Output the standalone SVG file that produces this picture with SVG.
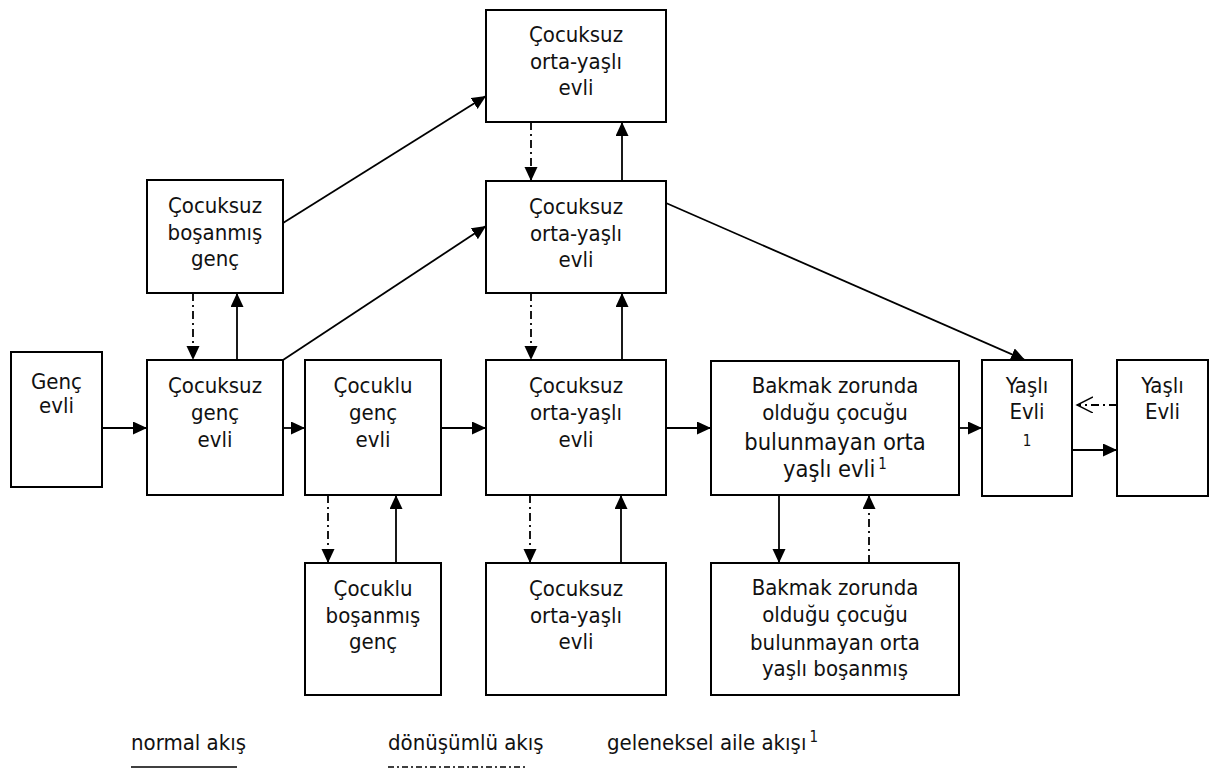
<svg xmlns="http://www.w3.org/2000/svg" width="1209" height="768" viewBox="0 0 1209 768">
  <style>
    .box { fill: #fff; stroke: #000; stroke-width: 2; }
    .lbl { font-family: "DejaVu Sans Condensed", "Open Sans", sans-serif; font-size: 22px; fill: #111; text-anchor: middle; }
    .leg { font-family: "DejaVu Sans Condensed", "Open Sans", sans-serif; font-size: 22px; fill: #111; }
    .big { font-size: 23.5px; }
    .sup { font-size: 15px; }
    .flow { fill: none; stroke: #000; stroke-width: 1.8; }
    .normal { marker-end: url(#solidHead); }
    .cycle { stroke-dasharray: 8 4 2 4; marker-end: url(#solidHead); }
    .trad { stroke-dasharray: 8 4 2 4; marker-end: url(#openHead); }
  </style>
  <defs>
    <marker id="solidHead" markerUnits="userSpaceOnUse" markerWidth="16" markerHeight="16" refX="14" refY="6.5" orient="auto">
      <path d="M0,0 L14,6.5 L0,13 Z" fill="#000"/>
    </marker>
    <marker id="openHead" markerUnits="userSpaceOnUse" markerWidth="18" markerHeight="18" refX="16" refY="8" orient="auto">
      <path d="M0,0 L16,8 L0,16" fill="none" stroke="#000" stroke-width="1.4"/>
    </marker>
  </defs>

  <rect width="1209" height="768" fill="#fff"/>

  <!-- connectors -->
  <g id="connectors">
    <!-- main horizontal flow -->
    <line class="flow normal" x1="102" y1="428" x2="147" y2="428"/>
    <line class="flow normal" x1="283" y1="428" x2="305" y2="428"/>
    <line class="flow normal" x1="441" y1="428" x2="486" y2="428"/>
    <line class="flow normal" x1="666" y1="428" x2="711" y2="428"/>
    <line class="flow normal" x1="959" y1="428" x2="982" y2="428"/>
    <line class="flow normal" x1="1072" y1="450" x2="1117" y2="450"/>
    <!-- upward and diagonal flows -->
    <line class="flow normal" x1="237" y1="360" x2="237" y2="293"/>
    <line class="flow normal" x1="622" y1="360" x2="622" y2="293"/>
    <line class="flow normal" x1="622" y1="181" x2="622" y2="122"/>
    <line class="flow normal" x1="283" y1="223" x2="486" y2="96"/>
    <line class="flow normal" x1="283" y1="360" x2="486" y2="226"/>
    <line class="flow normal" x1="666" y1="203" x2="1025" y2="360"/>
    <line class="flow normal" x1="396" y1="563" x2="396" y2="495"/>
    <line class="flow normal" x1="621" y1="563" x2="621" y2="495"/>
    <line class="flow normal" x1="779" y1="495" x2="779" y2="563"/>
    <!-- cyclic (dash-dot) flows -->
    <line class="flow cycle" x1="193" y1="293" x2="193" y2="360"/>
    <line class="flow cycle" x1="531" y1="122" x2="531" y2="181"/>
    <line class="flow cycle" x1="531" y1="293" x2="531" y2="360"/>
    <line class="flow cycle" x1="328" y1="495" x2="328" y2="563"/>
    <line class="flow cycle" x1="530" y1="495" x2="530" y2="563"/>
    <line class="flow cycle" x1="869" y1="563" x2="869" y2="495"/>
    <!-- traditional family flow -->
    <line class="flow trad" x1="1117" y1="405" x2="1077" y2="405"/>
  </g>

  <g id="genc-evli">
    <rect class="box" x="11" y="352" width="91" height="135"/>
    <text class="lbl" x="56.5" y="389">Genç</text>
    <text class="lbl" x="56.5" y="413">evli</text>
  </g>

  <g id="cocuksuz-genc-evli">
    <rect class="box" x="147" y="360" width="136" height="135"/>
    <text class="lbl" x="215" y="393">Çocuksuz</text>
    <text class="lbl" x="215" y="420">genç</text>
    <text class="lbl" x="215" y="447">evli</text>
  </g>

  <g id="cocuksuz-bosanmis-genc">
    <rect class="box" x="147" y="180" width="136" height="113"/>
    <text class="lbl" x="215" y="213">Çocuksuz</text>
    <text class="lbl" x="215" y="240">boşanmış</text>
    <text class="lbl" x="215" y="266">genç</text>
  </g>

  <g id="cocuklu-genc-evli">
    <rect class="box" x="305" y="360" width="136" height="135"/>
    <text class="lbl" x="373" y="393">Çocuklu</text>
    <text class="lbl" x="373" y="420">genç</text>
    <text class="lbl" x="373" y="447">evli</text>
  </g>

  <g id="cocuklu-bosanmis-genc">
    <rect class="box" x="305" y="563" width="136" height="132"/>
    <text class="lbl" x="373" y="596">Çocuklu</text>
    <text class="lbl" x="373" y="623">boşanmış</text>
    <text class="lbl" x="373" y="649">genç</text>
  </g>

  <g id="cocuksuz-orta-yasli-ust">
    <rect class="box" x="486" y="10" width="180" height="112"/>
    <text class="lbl" x="576" y="42">Çocuksuz</text>
    <text class="lbl" x="576" y="69">orta-yaşlı</text>
    <text class="lbl" x="576" y="95">evli</text>
  </g>

  <g id="cocuksuz-orta-yasli-orta">
    <rect class="box" x="486" y="181" width="180" height="112"/>
    <text class="lbl" x="576" y="214">Çocuksuz</text>
    <text class="lbl" x="576" y="241">orta-yaşlı</text>
    <text class="lbl" x="576" y="267">evli</text>
  </g>

  <g id="cocuksuz-orta-yasli-evli">
    <rect class="box" x="486" y="360" width="180" height="135"/>
    <text class="lbl" x="576" y="393">Çocuksuz</text>
    <text class="lbl" x="576" y="420">orta-yaşlı</text>
    <text class="lbl" x="576" y="447">evli</text>
  </g>

  <g id="cocuksuz-orta-yasli-alt">
    <rect class="box" x="486" y="563" width="180" height="132"/>
    <text class="lbl" x="576" y="596">Çocuksuz</text>
    <text class="lbl" x="576" y="623">orta-yaşlı</text>
    <text class="lbl" x="576" y="649">evli</text>
  </g>

  <g id="bakmak-evli">
    <rect class="box" x="711" y="361" width="248" height="134"/>
    <text class="lbl" x="835" y="393">Bakmak zorunda</text>
    <text class="lbl" x="835" y="420">olduğu çocuğu</text>
    <text class="lbl big" x="835" y="450">bulunmayan orta</text>
    <text class="lbl big" x="835" y="477">yaşlı evli<tspan class="sup" dx="3" dy="-8">1</tspan></text>
  </g>

  <g id="bakmak-bosanmis">
    <rect class="box" x="711" y="563" width="248" height="132"/>
    <text class="lbl" x="835" y="595">Bakmak zorunda</text>
    <text class="lbl" x="835" y="622">olduğu çocuğu</text>
    <text class="lbl" x="835" y="650">bulunmayan orta</text>
    <text class="lbl" x="835" y="676">yaşlı boşanmış</text>
  </g>

  <g id="yasli-evli-1">
    <rect class="box" x="982" y="360" width="90" height="136"/>
    <text class="lbl" x="1027" y="393">Yaşlı</text>
    <text class="lbl" x="1027" y="419">Evli</text>
    <text class="lbl sup" x="1027" y="446">1</text>
  </g>

  <g id="yasli-evli-2">
    <rect class="box" x="1117" y="360" width="91" height="136"/>
    <text class="lbl" x="1162.5" y="393">Yaşlı</text>
    <text class="lbl" x="1162.5" y="419">Evli</text>
  </g>

  <!-- legend -->
  <g id="legend">
    <text class="leg" x="131" y="750">normal akış</text>
    <line x1="131" y1="767" x2="237" y2="767" stroke="#000" stroke-width="1.6"/>
    <text class="leg" x="388" y="750">dönüşümlü akış</text>
    <line x1="388" y1="767" x2="528" y2="767" stroke="#000" stroke-width="1.4" stroke-dasharray="6 3 2 3"/>
    <text class="leg" x="607" y="750">geleneksel aile akışı<tspan class="sup" dx="3" dy="-8">1</tspan></text>
  </g>
</svg>
